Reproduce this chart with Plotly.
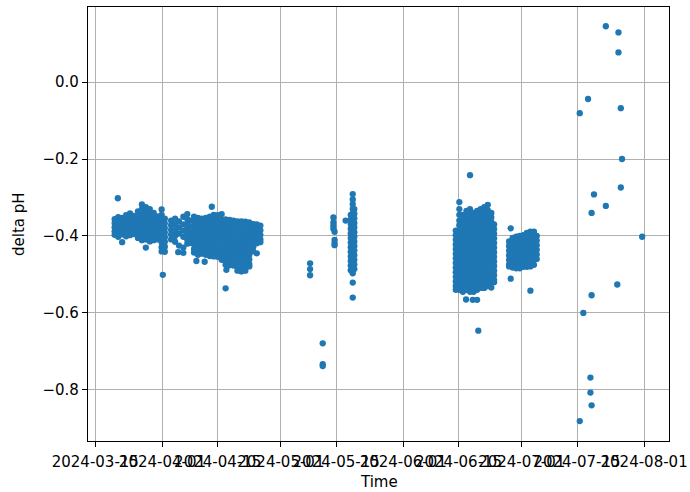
import pandas as pd
import plotly.graph_objects as go

# Day offsets from 2024-03-15 and the delta-pH values read at each day
start = pd.Timestamp("2024-03-15")

march_days = [4.9, 5.7, 5.8, 6.8, 7.8, 8.8, 9.8, 10.8, 11.8, 12.8, 13.8, 14.8, 15.8, 16.8, 17.1, 17.6]
march_vals = [
    [-0.356, -0.366, -0.377, -0.388, -0.397],
    [-0.302],
    [-0.351, -0.361, -0.372, -0.383, -0.394, -0.402],
    [-0.353, -0.364, -0.375, -0.386, -0.396, -0.416],
    [-0.346, -0.357, -0.369, -0.381, -0.392, -0.401],
    [-0.341, -0.352, -0.364, -0.376, -0.388, -0.398],
    [-0.348, -0.359, -0.371, -0.383, -0.395],
    [-0.336, -0.347, -0.359, -0.371, -0.383, -0.395, -0.405],
    [-0.318, -0.330, -0.342, -0.354, -0.366, -0.378, -0.390, -0.402, -0.411],
    [-0.325, -0.337, -0.349, -0.361, -0.373, -0.385, -0.397, -0.409, -0.430],
    [-0.330, -0.342, -0.354, -0.366, -0.378, -0.390, -0.402, -0.414],
    [-0.340, -0.352, -0.364, -0.376, -0.388, -0.400, -0.411],
    [-0.349, -0.361, -0.373, -0.385, -0.397, -0.409],
    [-0.331, -0.345, -0.357, -0.369, -0.381, -0.393, -0.405, -0.417, -0.429, -0.440],
    [-0.501],
    [-0.355, -0.367, -0.379, -0.391, -0.403, -0.415, -0.428, -0.441],
]

april_a_days = [19.2, 20.2, 21.0, 21.2, 22.3, 23.3, 24.0]
april_a_vals = [
    [-0.360, -0.372, -0.384, -0.396, -0.409],
    [-0.355, -0.370, -0.385, -0.400, -0.415],
    [-0.442],
    [-0.362, -0.378, -0.394, -0.425],
    [-0.350, -0.370, -0.386, -0.402, -0.430, -0.444],
    [-0.343, -0.356, -0.368, -0.380, -0.395, -0.410, -0.420],
    [-0.360, -0.375, -0.390, -0.405, -0.418],
]

april_b_days = [25.0, 25.6, 26.0, 27.0, 27.7, 28.0, 29.0, 29.5, 30.0, 31.0, 32.0, 33.0, 33.2,
                34.0, 35.0, 36.0, 37.0, 38.0, 39.0, 40.0, 40.9, 41.8]
april_b_vals = [
    [-0.350, -0.362, -0.374, -0.386, -0.398, -0.410, -0.422, -0.434, -0.443],
    [-0.465],
    [-0.353, -0.365, -0.377, -0.389, -0.401, -0.413, -0.425, -0.437, -0.449],
    [-0.355, -0.367, -0.379, -0.391, -0.403, -0.415, -0.427, -0.439, -0.446],
    [-0.467],
    [-0.353, -0.365, -0.377, -0.389, -0.401, -0.413, -0.425, -0.437, -0.449],
    [-0.350, -0.362, -0.374, -0.386, -0.398, -0.410, -0.422, -0.434, -0.446, -0.452],
    [-0.324],
    [-0.345, -0.357, -0.369, -0.381, -0.393, -0.405, -0.417, -0.429, -0.441, -0.453],
    [-0.346, -0.358, -0.370, -0.382, -0.394, -0.406, -0.418, -0.430, -0.442, -0.454],
    [-0.343, -0.357, -0.369, -0.381, -0.393, -0.405, -0.417, -0.429, -0.441, -0.453, -0.462],
    [-0.357, -0.369, -0.381, -0.393, -0.405, -0.417, -0.429, -0.441, -0.453, -0.465, -0.475, -0.536],
    [-0.488],
    [-0.358, -0.370, -0.382, -0.394, -0.406, -0.418, -0.430, -0.442, -0.454, -0.466, -0.476],
    [-0.360, -0.372, -0.384, -0.396, -0.408, -0.420, -0.432, -0.444, -0.456, -0.468, -0.477],
    [-0.362, -0.374, -0.386, -0.398, -0.410, -0.422, -0.434, -0.446, -0.458, -0.470, -0.482, -0.490],
    [-0.362, -0.374, -0.386, -0.398, -0.410, -0.422, -0.434, -0.446, -0.458, -0.470, -0.482, -0.492],
    [-0.363, -0.375, -0.387, -0.399, -0.411, -0.423, -0.435, -0.447, -0.459, -0.471, -0.483, -0.490],
    [-0.365, -0.377, -0.389, -0.401, -0.413, -0.425, -0.437, -0.449, -0.461, -0.473, -0.479],
    [-0.369, -0.381, -0.393, -0.405, -0.417, -0.429, -0.440],
    [-0.370, -0.382, -0.394, -0.406, -0.419, -0.445],
    [-0.373, -0.385, -0.397, -0.409, -0.416],
]

may_days = [54.4, 57.6, 60.3, 60.6, 63.4, 64.7, 65.2, 65.6]
may_vals = [
    [-0.471, -0.486, -0.502],
    [-0.679, -0.733, -0.738],
    [-0.352, -0.365, -0.373, -0.381],
    [-0.389, -0.410, -0.418, -0.424],
    [-0.360],
    [-0.345, -0.357, -0.369, -0.381, -0.393, -0.405, -0.417, -0.429, -0.441, -0.453, -0.465, -0.477, -0.489],
    [-0.291, -0.305, -0.317, -0.329, -0.341, -0.353, -0.365, -0.377, -0.389, -0.401, -0.413, -0.425,
     -0.437, -0.449, -0.461, -0.473, -0.485, -0.497, -0.521, -0.560],
    [-0.330, -0.342, -0.354, -0.366, -0.378, -0.390, -0.402, -0.414, -0.426, -0.438, -0.450, -0.462,
     -0.474, -0.486],
]

june_days = [91.3, 92.2, 93.1, 93.9, 94.0, 94.9, 95.6, 95.8, 96.7, 97.0, 97.6, 98.5, 99.4, 100.3, 101.0]
june_vals = [
    [-0.386, -0.398, -0.410, -0.422, -0.434, -0.446, -0.458, -0.470, -0.482, -0.494, -0.506, -0.518, -0.530, -0.540],
    [-0.312, -0.330, -0.345, -0.360, -0.372, -0.384, -0.396, -0.408, -0.420, -0.432, -0.444, -0.456, -0.468,
     -0.480, -0.492, -0.504, -0.516, -0.528, -0.540],
    [-0.345, -0.357, -0.369, -0.381, -0.393, -0.405, -0.417, -0.429, -0.441, -0.453, -0.465, -0.477, -0.489,
     -0.501, -0.513, -0.525, -0.537, -0.545],
    [-0.565],
    [-0.335, -0.347, -0.359, -0.371, -0.383, -0.395, -0.407, -0.419, -0.431, -0.443, -0.455, -0.467, -0.479,
     -0.491, -0.503, -0.515, -0.527, -0.540],
    [-0.242, -0.330, -0.342, -0.354, -0.366, -0.378, -0.390, -0.402, -0.414, -0.426, -0.438, -0.450, -0.462,
     -0.474, -0.486, -0.498, -0.510, -0.522, -0.534, -0.545],
    [-0.566],
    [-0.340, -0.352, -0.364, -0.376, -0.388, -0.400, -0.412, -0.424, -0.436, -0.448, -0.460, -0.472, -0.484,
     -0.496, -0.508, -0.520, -0.532, -0.545],
    [-0.335, -0.347, -0.359, -0.371, -0.383, -0.395, -0.407, -0.419, -0.431, -0.443, -0.455, -0.467, -0.479,
     -0.491, -0.503, -0.515, -0.527, -0.540, -0.566],
    [-0.646],
    [-0.330, -0.342, -0.354, -0.366, -0.378, -0.390, -0.402, -0.414, -0.426, -0.438, -0.450, -0.462, -0.474,
     -0.486, -0.498, -0.510, -0.522, -0.535],
    [-0.325, -0.337, -0.349, -0.361, -0.373, -0.385, -0.397, -0.409, -0.421, -0.433, -0.445, -0.457, -0.469,
     -0.481, -0.493, -0.505, -0.517, -0.529, -0.535],
    [-0.319, -0.333, -0.345, -0.357, -0.369, -0.381, -0.393, -0.405, -0.417, -0.429, -0.441, -0.453, -0.465,
     -0.477, -0.489, -0.501, -0.513, -0.525, -0.530],
    [-0.340, -0.352, -0.364, -0.376, -0.388, -0.400, -0.412, -0.424, -0.436, -0.448, -0.460, -0.472, -0.484,
     -0.496, -0.508, -0.520, -0.534],
    [-0.370, -0.382, -0.394, -0.406, -0.418, -0.430, -0.442, -0.454, -0.466, -0.478, -0.490, -0.502, -0.514, -0.520],
]

july_days = [104.8, 105.2, 105.7, 106.6, 107.5, 108.4, 109.3, 110.2, 111.1, 111.8]
july_vals = [
    [-0.414, -0.426, -0.438, -0.450, -0.462, -0.474, -0.479],
    [-0.380, -0.511],
    [-0.405, -0.417, -0.429, -0.441, -0.453, -0.465, -0.477, -0.482],
    [-0.402, -0.414, -0.426, -0.438, -0.450, -0.462, -0.474, -0.484],
    [-0.400, -0.412, -0.424, -0.436, -0.448, -0.460, -0.472, -0.484],
    [-0.398, -0.410, -0.422, -0.434, -0.446, -0.458, -0.470, -0.480],
    [-0.392, -0.404, -0.416, -0.428, -0.440, -0.452, -0.464, -0.476, -0.480],
    [-0.389, -0.401, -0.413, -0.425, -0.437, -0.449, -0.461, -0.473, -0.479, -0.542],
    [-0.389, -0.401, -0.413, -0.425, -0.437, -0.449, -0.461, -0.475],
    [-0.400, -0.412, -0.424, -0.436, -0.448, -0.460],
]

late_days = [129.3, 132.5, 132.5, 124.8, 122.7, 133.1, 133.4, 133.1, 126.3, 129.3,
             125.7, 138.5, 132.2, 125.7, 123.6, 125.4, 125.4, 125.7, 122.7]
late_vals = [0.145, 0.129, 0.077, -0.044, -0.081, -0.068, -0.200, -0.274, -0.292, -0.322,
             -0.340, -0.402, -0.526, -0.554, -0.600, -0.768, -0.807, -0.840, -0.881]

x_tick_dates = ["2024-03-15", "2024-04-01", "2024-04-15", "2024-05-01", "2024-05-15",
                "2024-06-01", "2024-06-15", "2024-07-01", "2024-07-15", "2024-08-01"]
y_tick_vals = [-0.8, -0.6, -0.4, -0.2, 0.0]
y_tick_text = ["\u22120.8", "\u22120.6", "\u22120.4", "\u22120.2", "0.0"]

xs, ys = [], []
for days, vals in [(march_days, march_vals), (april_a_days, april_a_vals),
                   (april_b_days, april_b_vals), (may_days, may_vals),
                   (june_days, june_vals), (july_days, july_vals)]:
    for d, col in zip(days, vals):
        for v in col:
            xs.append(start + pd.Timedelta(days=d))
            ys.append(v)
for d, v in zip(late_days, late_vals):
    xs.append(start + pd.Timedelta(days=d))
    ys.append(v)

fig = go.Figure(go.Scatter(
    x=xs, y=ys, mode="markers",
    marker=dict(color="#1f77b4", size=6.3, line=dict(width=0)),
    hoverinfo="skip",
))

axis_common = dict(
    showgrid=True, gridcolor="#b0b0b0", gridwidth=1.1,
    showline=True, linecolor="black", linewidth=1.2, mirror=True,
    ticks="outside", ticklen=5, tickwidth=1.2, tickcolor="black",
    zeroline=False, tickfont=dict(size=15, color="black"),
    automargin=False,
)

fig.update_layout(
    width=690, height=492,
    margin=dict(l=88, r=21, t=7, b=51, autoexpand=False),
    paper_bgcolor="white", plot_bgcolor="white",
    font=dict(family="DejaVu Sans", size=15, color="black"),
    showlegend=False,
    xaxis=dict(
        type="date",
        range=[start - pd.Timedelta(days=1.85), start + pd.Timedelta(days=145.3)],
        tickmode="array", tickvals=x_tick_dates, ticktext=x_tick_dates,
        tickangle=0, ticklabelstandoff=2,
        **axis_common,
    ),
    yaxis=dict(
        range=[-0.9327, 0.195],
        tickmode="array", tickvals=y_tick_vals, ticktext=y_tick_text,
        **axis_common,
    ),
    annotations=[
        dict(text="Time", xref="paper", yref="paper", x=0.5, y=-41 / 434,
             xanchor="center", yanchor="middle", showarrow=False,
             font=dict(size=15, color="black")),
        dict(text="delta pH", xref="paper", yref="paper", x=(19 - 88) / 581, y=0.5,
             xanchor="center", yanchor="middle", textangle=-90, showarrow=False,
             font=dict(size=15, color="black")),
    ],
)

fig.write_html("out.html")
